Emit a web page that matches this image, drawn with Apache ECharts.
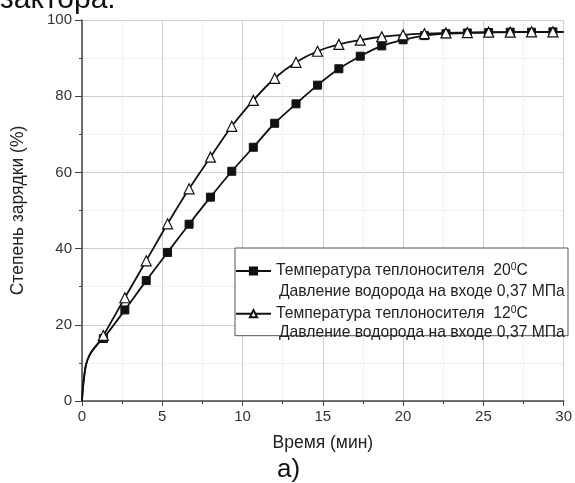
<!DOCTYPE html>
<html>
<head>
<meta charset="utf-8">
<script src="https://cdn.jsdelivr.net/npm/echarts@6/dist/echarts.min.js"></script>
<style>
  html, body { margin: 0; padding: 0; background: #fff; }
  #chart { width: 575px; height: 483px; }
</style>
</head>
<body>
<div id="chart"></div>
<script>
// moments where the markers sit (min)
var markTime = [1.33, 2.67, 4.0, 5.33, 6.67, 8.0, 9.33, 10.67, 12.0, 13.33, 14.67,
                16.0, 17.33, 18.67, 20.0, 21.33, 22.67, 24.0, 25.33, 26.67, 28.0, 29.33];
// coolant 20 C
var charge20 = [16.4, 23.9, 31.6, 39.0, 46.4, 53.5, 60.3, 66.6, 72.9, 78.0, 82.9,
                87.2, 90.5, 93.2, 94.8, 95.9, 96.4, 96.6, 96.7, 96.8, 96.8, 96.9];
// coolant 12 C
var charge12 = [17.2, 27.1, 36.8, 46.5, 55.7, 64.0, 72.1, 78.9, 84.7, 88.9, 91.8,
                93.6, 94.7, 95.6, 96.1, 96.4, 96.6, 96.7, 96.8, 96.8, 96.9, 96.9];
// common start of both curves (no markers)
var startTime = [0, 0.03, 0.1, 0.25, 0.5, 0.9];
var startCharge = [0, 2.0, 5.2, 9.5, 12.3, 14.6];
var endTime = 30;
var endCharge20 = 96.9;
var endCharge12 = 96.9;

var xTicks = [0, 5, 10, 15, 20, 25, 30];
var yTicks = [0, 20, 40, 60, 80, 100];

var name20 = 'Температура теплоносителя 20°C';
var name12 = 'Температура теплоносителя 12°C';
var pressureText = 'Давление водорода на входе 0,37 МПа';

var FONT = '"Liberation Sans", Arial, sans-serif';

function buildData(values, endValue) {
    var out = [];
    for (var i = 0; i < startTime.length; i++) {
        out.push({ value: [startTime[i], startCharge[i]], symbol: 'none' });
    }
    for (var j = 0; j < markTime.length; j++) {
        out.push({ value: [markTime[j], values[j]] });
    }
    out.push({ value: [endTime, endValue], symbol: 'none' });
    return out;
}

var myChart = echarts.init(document.getElementById('chart'));
var option = {
    backgroundColor: '#fff',
    animation: false,
    textStyle: { fontFamily: FONT },
    grid: { left: 82, right: 8, top: 20, bottom: 82 },
    legend: {
        orient: 'vertical',
        left: 235,
        top: 248,
        padding: [14, 0, 13, 0],
        itemGap: 24.7,
        itemWidth: 35,
        itemHeight: 9,
        backgroundColor: '#fff',
        borderColor: '#555',
        borderWidth: 1,
        z: 8,
        data: [name20, name12],
        formatter: function(name) {
            var t = name === name20 ? '20' : '12';
            return '{t|Температура теплоносителя  ' + t + '}{s|0}{t|C}';
        },
        textStyle: {
            width: 292,
            fontSize: 15.7,
            lineHeight: 18,
            color: '#222',
            rich: {
                t: { fontSize: 15.7, color: '#222', fontFamily: FONT },
                s: { fontSize: 10.5, color: '#222', fontFamily: FONT, verticalAlign: 'top', padding: [0, 0, 8, 0] }
            }
        }
    },
    graphic: [
        { type: 'text', left: 0, top: -15, z: 10, style: { text: 'зактора.', font: '30px ' + FONT, fill: '#111' } },
        { type: 'text', left: 279, top: 284, z: 10, style: { text: pressureText, font: '15.7px ' + FONT, fill: '#222' } },
        { type: 'text', left: 279, top: 325, z: 10, style: { text: pressureText, font: '15.7px ' + FONT, fill: '#222' } },
        { type: 'text', left: 277, top: 457, z: 10, style: { text: 'а)', font: '26px ' + FONT, fill: '#111' } }
    ],
    xAxis: {
        type: 'value',
        min: xTicks[0],
        max: xTicks[xTicks.length - 1],
        interval: 5,
        name: 'Время (мин)',
        nameLocation: 'middle',
        nameGap: 33,
        nameTextStyle: { fontSize: 17.5, color: '#222' },
        axisLine: { lineStyle: { color: '#444', width: 1.5 } },
        axisTick: { length: 5, lineStyle: { color: '#444' } },
        minorTick: { show: true, splitNumber: 2, length: 3, lineStyle: { color: '#444' } },
        axisLabel: { fontSize: 15, color: '#333', margin: 8 },
        splitLine: { show: true, lineStyle: { color: '#cfcfcf', width: 1 } },
        minorSplitLine: { show: true, lineStyle: { color: '#e2e2e2', type: 'dotted' } }
    },
    yAxis: {
        type: 'value',
        min: yTicks[0],
        max: yTicks[yTicks.length - 1],
        interval: 20,
        name: 'Степень зарядки (%)',
        nameLocation: 'middle',
        nameGap: 55,
        nameTextStyle: { fontSize: 17.5, color: '#222' },
        axisLine: { show: true, lineStyle: { color: '#444', width: 1.5 } },
        axisTick: { show: true, length: 7, lineStyle: { color: '#444' } },
        minorTick: { show: true, splitNumber: 2, length: 3, lineStyle: { color: '#444' } },
        axisLabel: { fontSize: 15, color: '#333', margin: 10 },
        splitLine: { show: true, lineStyle: { color: '#cfcfcf', width: 1 } },
        minorSplitLine: { show: true, lineStyle: { color: '#e2e2e2', type: 'dotted' } }
    },
    series: [
        {
            name: name20,
            type: 'line',
            smooth: 0.3,
            data: buildData(charge20, endCharge20),
            symbol: 'rect',
            symbolSize: 8,
            lineStyle: { color: '#111', width: 1.8 },
            itemStyle: { color: '#111', borderColor: '#111', borderWidth: 1 },
            z: 3
        },
        {
            name: name12,
            type: 'line',
            smooth: 0.3,
            data: buildData(charge12, endCharge12),
            symbol: 'triangle',
            symbolSize: 10,
            lineStyle: { color: '#111', width: 1.8 },
            itemStyle: { color: '#fff', borderColor: '#111', borderWidth: 1.2 },
            z: 4
        }
    ]
};
myChart.setOption(option);
</script>
</body>
</html>
